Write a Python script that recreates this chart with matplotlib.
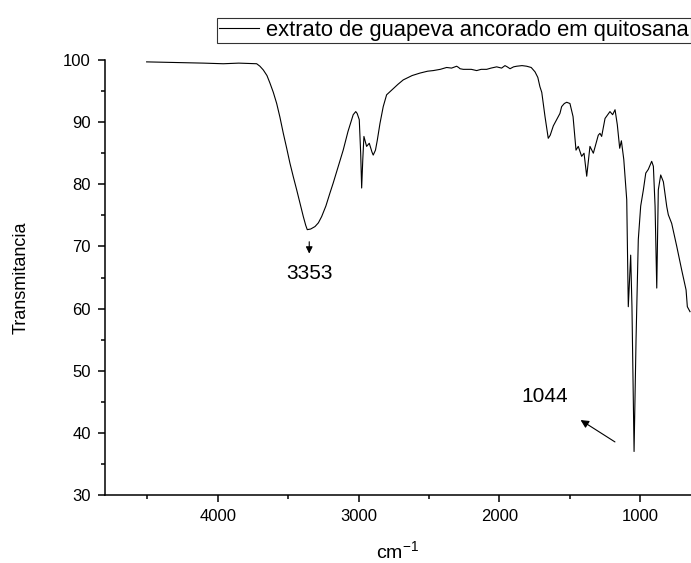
import matplotlib
matplotlib.use("Agg")
import matplotlib.pyplot as plt
from matplotlib.ticker import MultipleLocator

plt.rcParams['font.family'] = ['Liberation Sans', 'DejaVu Sans']

# FTIR spectrum (wavenumber cm-1, transmittance %)
wavenumber = [4504, 4300, 4100, 3960, 3850, 3723, 3700, 3676, 3650, 3629,
              3605, 3581, 3558, 3534, 3510, 3487, 3463, 3439, 3415, 3392,
              3375, 3364, 3340, 3309, 3285, 3262, 3232, 3203, 3180, 3145,
              3109, 3075, 3038, 3020, 3010, 2995, 2985, 2978, 2970, 2962,
              2943, 2924, 2905, 2896, 2880, 2867, 2848, 2825, 2801, 2777,
              2754, 2720, 2683, 2620, 2564, 2510, 2470, 2420, 2375, 2340,
              2304, 2290, 2280, 2257, 2200, 2162, 2130, 2091, 2060, 2020,
              1985, 1961, 1945, 1925, 1900, 1878, 1840, 1807, 1775, 1748,
              1728, 1713, 1700, 1677, 1654, 1640, 1618, 1590, 1571, 1559,
              1540, 1523, 1500, 1478, 1457, 1441, 1417, 1400, 1381, 1358,
              1334, 1299, 1287, 1275, 1251, 1216, 1197, 1180, 1164, 1147,
              1135, 1118, 1097, 1086, 1069, 1060, 1045, 1031, 1015, 998,
              979, 962, 944, 920, 908, 896, 884, 873, 856, 837,
              813, 802, 778, 742, 707, 676, 667, 648]
transmittance = [99.7, 99.6, 99.5, 99.4, 99.5, 99.4, 99.0, 98.4, 97.5, 96.3,
                 94.8, 93.0, 90.8, 88.2, 85.8, 83.4, 81.2, 79.1, 76.9, 74.8,
                 73.4, 72.7, 72.8, 73.2, 73.8, 74.8, 76.5, 78.6, 80.2, 82.8,
                 85.5, 88.5, 91.2, 91.7, 91.4, 90.4, 85.0, 79.4, 84.0, 87.7,
                 86.1, 86.6, 85.2, 84.7, 85.5, 87.1, 89.8, 92.5, 94.4, 94.9,
                 95.4, 96.1, 96.8, 97.5, 97.9, 98.2, 98.3, 98.5, 98.8, 98.7,
                 99.0, 98.8, 98.6, 98.5, 98.5, 98.3, 98.5, 98.5, 98.7, 98.9,
                 98.7, 99.1, 98.9, 98.6, 98.9, 99.0, 99.1, 99.0, 98.8, 98.1,
                 97.2, 95.7, 94.8, 90.9, 87.4, 87.9, 89.4, 90.6, 91.4, 92.5,
                 93.0, 93.2, 93.0, 90.9, 85.5, 86.1, 84.5, 85.0, 81.3, 86.1,
                 85.0, 87.9, 88.2, 87.7, 90.6, 91.7, 91.2, 92.0, 89.6, 85.8,
                 87.0, 84.0, 77.5, 60.3, 68.6, 60.3, 37.0, 55.0, 71.1, 76.5,
                 79.1, 81.8, 82.4, 83.7, 82.9, 76.5, 63.3, 79.1, 81.5, 80.4,
                 76.4, 75.1, 73.7, 70.0, 66.2, 63.0, 60.3, 59.5]

fig = plt.figure(figsize=(6.91, 5.63), dpi=100)
ax = fig.add_axes([0.1514, 0.1208, 0.8486, 0.7726])

line, = ax.plot(wavenumber, transmittance, color='black', lw=0.8,
                label='extrato de guapeva ancorado em quitosana')

ax.set_xlim(4802, 641)
ax.set_ylim(30, 100)
ax.xaxis.set_major_locator(MultipleLocator(1000))
ax.xaxis.set_minor_locator(MultipleLocator(500))
ax.yaxis.set_major_locator(MultipleLocator(10))
ax.yaxis.set_minor_locator(MultipleLocator(5))

ax.spines['top'].set_visible(False)
ax.spines['right'].set_visible(False)
for s in ['left', 'bottom']:
    ax.spines[s].set_linewidth(1.1)
ax.tick_params(which='major', direction='out', length=5, width=1.1, labelsize=12, pad=5)
ax.tick_params(which='minor', direction='out', length=3, width=1.1)

ax.set_xlabel('cm$^{\\mathregular{-1}}$', fontsize=14, labelpad=12)
ax.set_ylabel('Transmitancia', fontsize=13, labelpad=24)

# peak annotations
ax.annotate('', xy=(3350, 68.4), xytext=(3350, 71.2),
            arrowprops=dict(arrowstyle='-|>', color='black', lw=0.8, mutation_scale=10))
ax.text(3345, 65.7, '3353', fontsize=15, ha='center', va='center')
ax.annotate('', xy=(1441, 42.3), xytext=(1164, 38.3),
            arrowprops=dict(arrowstyle='-|>', color='black', lw=0.8, mutation_scale=12))
ax.text(1682, 45.9, '1044', fontsize=15, ha='center', va='center')

leg = fig.legend(handles=[line], loc='lower left', bbox_to_anchor=(217 / 691, 1 - 43 / 563),
                 bbox_transform=fig.transFigure, fontsize=15.8, frameon=True, fancybox=False,
                 borderpad=0.1, borderaxespad=0, handlelength=1.8, handletextpad=0.35)
leg.get_frame().set_edgecolor('black')
leg.get_frame().set_linewidth(0.8)

fig.savefig('out.png', dpi=100)
